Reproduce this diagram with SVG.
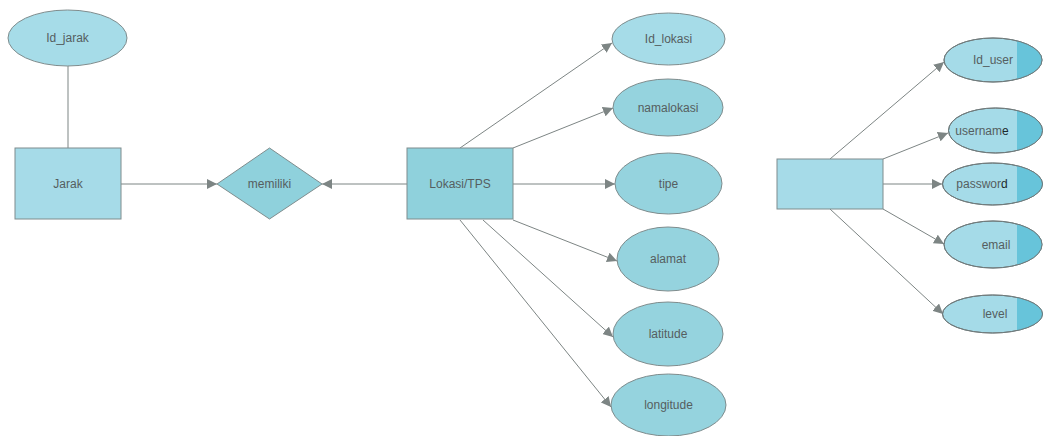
<svg xmlns="http://www.w3.org/2000/svg" width="1043" height="436" viewBox="0 0 1043 436">
<style>
.ent{fill:#a6dbe8;stroke:#7f8c8d;stroke-width:1}
.ent2{fill:#8fd1dc;stroke:#7f8c8d;stroke-width:1}
.att{fill:#a6dce8;stroke:#7f8c8d;stroke-width:1}
.att2{fill:#95d3de;stroke:#7f8c8d;stroke-width:1}
.attu{fill:#a5dbe8;stroke:#6f7a7b;stroke-width:1}
.dark{fill:#67c4da}
.t{font-family:"Liberation Sans",Arial,sans-serif;font-size:12px;fill:#555e60;text-anchor:middle;dominant-baseline:central}
.c{stroke:#7d8584;stroke-width:1;fill:none}
</style>
<defs>
<marker id="ah" viewBox="0 0 10 10" refX="10" refY="5" markerWidth="10" markerHeight="10" markerUnits="userSpaceOnUse" orient="auto">
<path d="M0,0 L10,5 L0,10 Z" fill="#7d8584"/>
</marker>
<clipPath id="cu1"><ellipse cx="993" cy="60" rx="49" ry="22"/></clipPath>
<clipPath id="cu2"><ellipse cx="995.5" cy="130.5" rx="47" ry="22.5"/></clipPath>
<clipPath id="cu3"><ellipse cx="992.5" cy="184" rx="50" ry="21"/></clipPath>
<clipPath id="cu4"><ellipse cx="993" cy="244.5" rx="49" ry="23.5"/></clipPath>
<clipPath id="cu5"><ellipse cx="992.5" cy="314" rx="50" ry="19"/></clipPath>
</defs>
<rect width="1043" height="436" fill="#ffffff"/>

<g id="connectors">
<line class="c" x1="68" y1="66" x2="68" y2="148"/>
<line class="c" x1="121" y1="184" x2="217" y2="184" marker-end="url(#ah)"/>
<line class="c" x1="407" y1="184" x2="322" y2="184" marker-end="url(#ah)"/>
<line class="c" x1="460" y1="148" x2="612" y2="43" marker-end="url(#ah)"/>
<line class="c" x1="513" y1="148" x2="613" y2="108" marker-end="url(#ah)"/>
<line class="c" x1="513" y1="184" x2="615" y2="184" marker-end="url(#ah)"/>
<line class="c" x1="513" y1="220" x2="617" y2="261" marker-end="url(#ah)"/>
<line class="c" x1="483" y1="220" x2="613" y2="337" marker-end="url(#ah)"/>
<line class="c" x1="460" y1="220" x2="611" y2="407" marker-end="url(#ah)"/>
<line class="c" x1="830" y1="159" x2="944" y2="62" marker-end="url(#ah)"/>
<line class="c" x1="883" y1="159" x2="948" y2="133" marker-end="url(#ah)"/>
<line class="c" x1="883" y1="184" x2="942" y2="184" marker-end="url(#ah)"/>
<line class="c" x1="883" y1="209" x2="944" y2="244" marker-end="url(#ah)"/>
<line class="c" x1="830" y1="209" x2="943" y2="314" marker-end="url(#ah)"/>
</g>

<g id="id_jarak"><ellipse class="att" cx="67.5" cy="38" rx="59.5" ry="28"/><text class="t" x="67.5" y="38">Id_jarak</text></g>
<g id="jarak"><rect class="ent" x="15" y="148" width="106" height="71"/><text class="t" x="68" y="184">Jarak</text></g>
<g id="memiliki"><polygon class="ent2" points="217,184 269.5,148 322,184 269.5,219"/><text class="t" x="269.5" y="184">memiliki</text></g>
<g id="lokasi"><rect class="ent2" x="407" y="148" width="106" height="71"/><text class="t" x="460" y="184">Lokasi/TPS</text></g>

<g id="id_lokasi"><ellipse class="att" cx="668.5" cy="39" rx="56.5" ry="26"/><text class="t" x="668.5" y="39">Id_lokasi</text></g>
<g id="namalokasi"><ellipse class="att2" cx="668" cy="107.5" rx="55" ry="28.5"/><text class="t" x="668" y="107.5">namalokasi</text></g>
<g id="tipe"><ellipse class="att2" cx="668.5" cy="183.5" rx="53.5" ry="30.5"/><text class="t" x="668.5" y="183.5">tipe</text></g>
<g id="alamat"><ellipse class="att2" cx="668" cy="259" rx="51" ry="32"/><text class="t" x="668" y="259">alamat</text></g>
<g id="latitude"><ellipse class="att2" cx="668" cy="334" rx="55" ry="32"/><text class="t" x="668" y="334">latitude</text></g>
<g id="longitude"><ellipse class="att2" cx="668.5" cy="405" rx="57.5" ry="31"/><text class="t" x="668.5" y="405">longitude</text></g>

<g id="user"><rect class="ent" x="777" y="159" width="106" height="50" fill="#a3dae6"/></g>

<g id="id_user"><ellipse class="attu" cx="993" cy="60" rx="49" ry="22"/><rect class="dark" x="1017" y="30" width="30" height="60" clip-path="url(#cu1)"/><ellipse cx="993" cy="60" rx="49" ry="22" fill="none" stroke="#6f7a7b"/><text class="t" x="993" y="60">Id_user</text></g>
<g id="username"><ellipse class="attu" cx="995.5" cy="130.5" rx="47" ry="22.5"/><rect class="dark" x="1017" y="100" width="30" height="60" clip-path="url(#cu2)"/><ellipse cx="995.5" cy="130.5" rx="47" ry="22.5" fill="none" stroke="#6f7a7b"/><text class="t" x="982" y="130.5">usernam<tspan fill="#1e2a2c">e</tspan></text></g>
<g id="password"><ellipse class="attu" cx="992.5" cy="184" rx="50" ry="21"/><rect class="dark" x="1017" y="155" width="30" height="60" clip-path="url(#cu3)"/><ellipse cx="992.5" cy="184" rx="50" ry="21" fill="none" stroke="#6f7a7b"/><text class="t" x="982" y="184">passwor<tspan fill="#1e2a2c">d</tspan></text></g>
<g id="email"><ellipse class="attu" cx="993" cy="244.5" rx="49" ry="23.5"/><rect class="dark" x="1017" y="215" width="30" height="60" clip-path="url(#cu4)"/><ellipse cx="993" cy="244.5" rx="49" ry="23.5" fill="none" stroke="#6f7a7b"/><text class="t" x="996" y="244.5">email</text></g>
<g id="level"><ellipse class="attu" cx="992.5" cy="314" rx="50" ry="19"/><rect class="dark" x="1017" y="290" width="30" height="50" clip-path="url(#cu5)"/><ellipse cx="992.5" cy="314" rx="50" ry="19" fill="none" stroke="#6f7a7b"/><text class="t" x="995" y="314">level</text></g>
</svg>
